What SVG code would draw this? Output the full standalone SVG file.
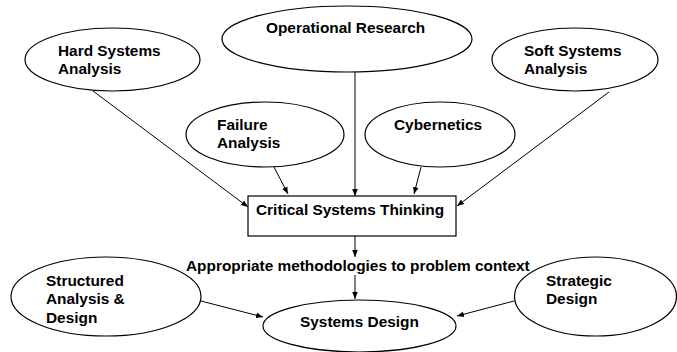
<svg xmlns="http://www.w3.org/2000/svg" width="677" height="352" viewBox="0 0 677 352">
<style>
.n{fill:#fff;stroke:#000;stroke-width:1.2}
.t{font-family:"Liberation Sans",Arial,sans-serif;font-weight:bold;font-size:15.4px;fill:#000}
.c{stroke:#000;stroke-width:1;fill:none;marker-end:url(#a)}
</style>
<defs>
<marker id="a" viewBox="0 0 10 10" refX="10" refY="5" markerWidth="7" markerHeight="7" markerUnits="userSpaceOnUse" orient="auto">
<path d="M0,1 L10,5 L0,9 z" fill="#000"/>
</marker>
</defs>
<rect width="677" height="352" fill="#fff"/>
<g id="connectors">
<line class="c" x1="93" y1="91" x2="248" y2="207"/>
<line class="c" x1="355" y1="72" x2="355" y2="196"/>
<line class="c" x1="274" y1="167" x2="288" y2="194"/>
<line class="c" x1="421" y1="167" x2="414" y2="194"/>
<line class="c" x1="609" y1="92" x2="457" y2="206"/>
<line class="c" x1="355" y1="236" x2="355" y2="257"/>
<line class="c" x1="355" y1="275" x2="355" y2="299"/>
<line class="c" x1="201" y1="301" x2="263" y2="317"/>
<line class="c" x1="514" y1="301" x2="457" y2="316"/>
</g>
<g id="hard">
<ellipse class="n" cx="112.5" cy="59.5" rx="87.5" ry="31.5"/>
<text class="t" x="58" y="56">Hard Systems</text>
<text class="t" x="58" y="74">Analysis</text>
</g>
<g id="operational">
<ellipse class="n" cx="347" cy="39" rx="125" ry="33"/>
<text class="t" x="266" y="33">Operational Research</text>
</g>
<g id="soft">
<ellipse class="n" cx="575" cy="59.5" rx="83" ry="31.5"/>
<text class="t" x="524" y="56">Soft Systems</text>
<text class="t" x="524" y="74">Analysis</text>
</g>
<g id="failure">
<ellipse class="n" cx="265" cy="134.5" rx="79" ry="32.5"/>
<text class="t" x="217" y="130">Failure</text>
<text class="t" x="217" y="148">Analysis</text>
</g>
<g id="cybernetics">
<ellipse class="n" cx="440" cy="134.5" rx="75" ry="32.5"/>
<text class="t" x="394" y="130">Cybernetics</text>
</g>
<g id="critical">
<rect class="n" x="248" y="196" width="208" height="40"/>
<text class="t" x="256" y="215">Critical Systems Thinking</text>
</g>
<g id="appropriate">
<text class="t" x="186" y="271">Appropriate methodologies to problem context</text>
</g>
<g id="structured">
<ellipse class="n" cx="106" cy="296.5" rx="95" ry="39.5"/>
<text class="t" x="46" y="286">Structured</text>
<text class="t" x="46" y="304">Analysis &amp;</text>
<text class="t" x="46" y="323">Design</text>
</g>
<g id="systemsdesign">
<ellipse class="n" cx="359.5" cy="326" rx="96.5" ry="26"/>
<text class="t" x="300" y="327">Systems Design</text>
</g>
<g id="strategic">
<ellipse class="n" cx="595.5" cy="296.5" rx="81" ry="39.5"/>
<text class="t" x="546" y="286">Strategic</text>
<text class="t" x="546" y="304">Design</text>
</g>
</svg>
